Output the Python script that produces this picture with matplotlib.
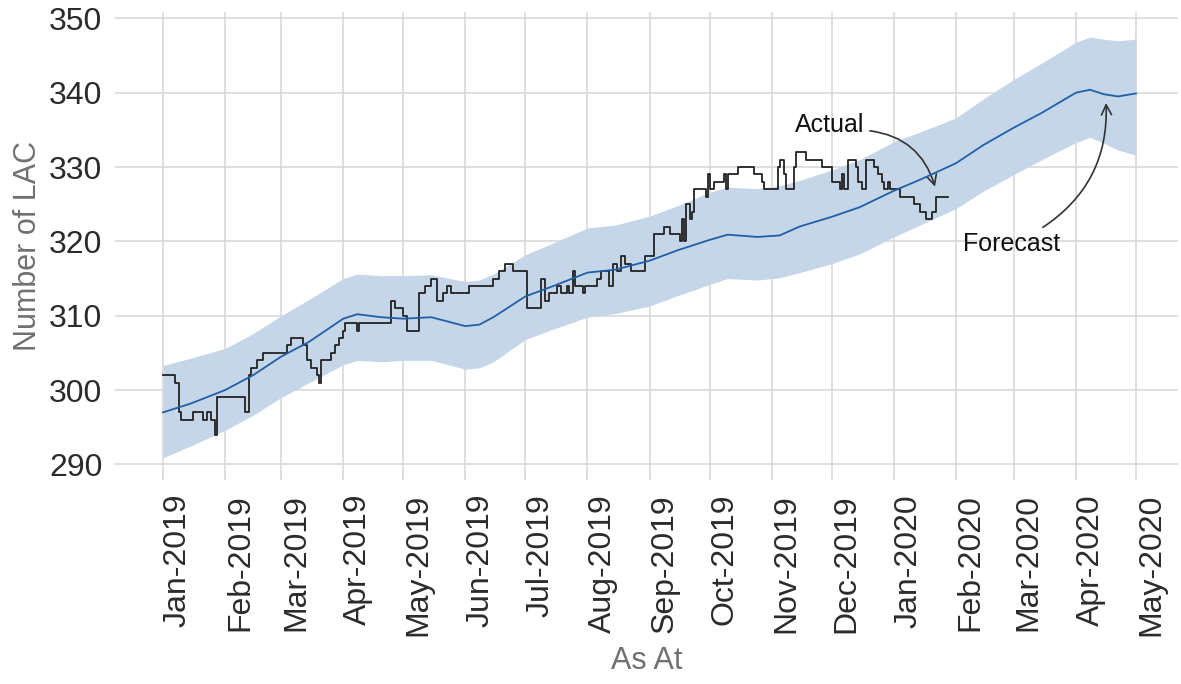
import matplotlib.pyplot as plt
import matplotlib.dates as mdates
import pandas as pd

# Forecast of LAC count with its prediction band
fc_dates = ['2019-01-01', '2019-01-15', '2019-02-01', '2019-02-15', '2019-03-01', '2019-03-15',
            '2019-04-01', '2019-04-08', '2019-04-20', '2019-05-01', '2019-05-15', '2019-06-01',
            '2019-06-08', '2019-06-15', '2019-07-01', '2019-07-15', '2019-08-01', '2019-08-15',
            '2019-09-01', '2019-09-15', '2019-10-01', '2019-10-10', '2019-10-25', '2019-11-05',
            '2019-11-15', '2019-12-01', '2019-12-15', '2020-01-01', '2020-01-15', '2020-02-01',
            '2020-02-15', '2020-03-01', '2020-03-15', '2020-04-01', '2020-04-08', '2020-04-15',
            '2020-04-22', '2020-05-01']
fc_mean = [297.0, 298.2, 300.0, 302.0, 304.5, 306.5,
           309.6, 310.2, 309.8, 309.6, 309.8, 308.6,
           308.8, 309.8, 312.6, 314.0, 315.8, 316.2,
           317.4, 318.8, 320.2, 320.9, 320.6, 320.8,
           322.0, 323.3, 324.6, 326.8, 328.4, 330.5,
           333.0, 335.3, 337.3, 340.0, 340.4, 339.8,
           339.5, 339.9]
fc_upper = [303.3, 304.3, 305.6, 307.6, 310.0, 312.2,
            315.0, 315.6, 315.4, 315.4, 315.5, 314.6,
            314.8, 315.6, 318.2, 319.8, 321.8, 322.2,
            323.4, 324.8, 326.6, 327.3, 327.1, 327.5,
            328.2, 329.6, 331.0, 333.4, 334.8, 336.6,
            339.2, 341.8, 344.0, 346.8, 347.5, 347.2,
            347.0, 347.2]
fc_lower = [290.9, 292.5, 294.6, 296.6, 299.0, 301.0,
            303.4, 304.0, 303.8, 304.0, 304.0, 302.8,
            303.0, 303.8, 306.8, 308.2, 309.8, 310.3,
            311.3, 312.7, 314.2, 315.0, 314.8, 315.1,
            315.8, 317.0, 318.3, 320.6, 322.3, 324.4,
            326.8, 329.0, 331.0, 333.3, 334.0, 333.2,
            332.3, 331.6]

# Actual counts: date of each change and the new value
act_dates = ['2019-01-01', '2019-01-07', '2019-01-09', '2019-01-10', '2019-01-16', '2019-01-21',
             '2019-01-23', '2019-01-25', '2019-01-27', '2019-01-28', '2019-02-11', '2019-02-13',
             '2019-02-14', '2019-02-17', '2019-02-20', '2019-03-04', '2019-03-06', '2019-03-12',
             '2019-03-14', '2019-03-16', '2019-03-19', '2019-03-20', '2019-03-21', '2019-03-26',
             '2019-03-28', '2019-03-30', '2019-04-01', '2019-04-02', '2019-04-08', '2019-04-09',
             '2019-04-25', '2019-04-27', '2019-05-01', '2019-05-03', '2019-05-09', '2019-05-12',
             '2019-05-15', '2019-05-18', '2019-05-21', '2019-05-23', '2019-05-25', '2019-06-03',
             '2019-06-15', '2019-06-18', '2019-06-21', '2019-06-25', '2019-07-02', '2019-07-09',
             '2019-07-11', '2019-07-13', '2019-07-17', '2019-07-19', '2019-07-22', '2019-07-23',
             '2019-07-25', '2019-07-26', '2019-07-30', '2019-07-31', '2019-08-06', '2019-08-08',
             '2019-08-12', '2019-08-14', '2019-08-16', '2019-08-18', '2019-08-20', '2019-08-23',
             '2019-08-30', '2019-09-03', '2019-09-08', '2019-09-11', '2019-09-16', '2019-09-17',
             '2019-09-18', '2019-09-19', '2019-09-21', '2019-09-22', '2019-09-23', '2019-09-29',
             '2019-09-30', '2019-10-01', '2019-10-03', '2019-10-08', '2019-10-09', '2019-10-10',
             '2019-10-15', '2019-10-23', '2019-10-27', '2019-10-28', '2019-11-04', '2019-11-05',
             '2019-11-07', '2019-11-08', '2019-11-12', '2019-11-13', '2019-11-18', '2019-11-26',
             '2019-12-01', '2019-12-05', '2019-12-06', '2019-12-07', '2019-12-09', '2019-12-13',
             '2019-12-14', '2019-12-16', '2019-12-18', '2019-12-22', '2019-12-24', '2019-12-26',
             '2019-12-27', '2019-12-29', '2019-12-30', '2020-01-04', '2020-01-11', '2020-01-14',
             '2020-01-17', '2020-01-20', '2020-01-22', '2020-01-28']
act_vals = [302, 301, 297, 296, 297, 296,
            297, 296, 294, 299, 297, 302,
            303, 304, 305, 306, 307, 306,
            304, 303, 302, 301, 304, 305,
            306, 307, 308, 309, 308, 309,
            312, 311, 310, 308, 313, 314,
            315, 312, 313, 314, 313, 314,
            315, 316, 317, 316, 311, 315,
            312, 313, 314, 313, 314, 313,
            316, 314, 313, 314, 315, 316,
            314, 317, 316, 318, 317, 316,
            318, 321, 322, 321, 320, 323,
            320, 325, 323, 324, 327, 326,
            329, 327, 328, 329, 327, 329,
            330, 329, 328, 327, 330, 331,
            329, 327, 330, 332, 331, 330,
            328, 327, 329, 327, 331, 330,
            328, 327, 331, 330, 329, 328,
            327, 328, 327, 326, 325, 324,
            323, 324, 326, 326]

y_ticks = [290, 300, 310, 320, 330, 340, 350]

fc_x = pd.to_datetime(fc_dates)
act_x = pd.to_datetime(act_dates)

plt.rcParams['font.family'] = ['Liberation Sans', 'DejaVu Sans']

fig = plt.figure(figsize=(11.81, 6.84), dpi=100)
ax = fig.add_axes([115 / 1181, 1 - 480 / 684, 1063 / 1181, 468.3 / 684])

ax.fill_between(fc_x, fc_lower, fc_upper, color='#c5d6e8', lw=0, zorder=2)
ax.plot(act_x, act_vals, drawstyle='steps-post', color='#222222', lw=1.3, zorder=3)
ax.plot(fc_x, fc_mean, color='#1f5fa8', lw=1.3, zorder=4)

ax.set_xlim(pd.Timestamp('2018-12-08'), pd.Timestamp('2020-05-22'))
ax.set_ylim(287.9, 350.9)
ax.set_yticks(y_ticks)
ax.xaxis.set_major_locator(mdates.MonthLocator())
ax.xaxis.set_major_formatter(mdates.DateFormatter('%b-%Y'))

for s in ax.spines.values():
    s.set_visible(False)
ax.grid(True, color='#d6d6d6', lw=1.1, zorder=0)
ax.set_axisbelow(True)
ax.tick_params(length=0, labelsize=23, labelcolor='#2b2b2b')
ax.tick_params(axis='y', pad=9)
ax.tick_params(axis='x', pad=10, labelrotation=90)
plt.setp(ax.get_xticklabels(), ha='left')

ax.set_ylabel('Number of LAC', fontsize=22, color='#707070')
ax.yaxis.set_label_coords(-0.068, 0.5)
ax.set_xlabel('As At', fontsize=22, color='#707070')
ax.xaxis.set_label_coords(0.5, -0.355)

arrow_kw = dict(arrowstyle='->', color='#333333', lw=1.2, mutation_scale=18)
ax.annotate('Actual', xy=(pd.Timestamp('2020-01-22'), 327.0),
            xytext=(pd.Timestamp('2019-11-30'), 335.6),
            fontsize=18, ha='center', va='center', color='#111111',
            arrowprops=dict(connectionstyle='arc3,rad=-0.35', relpos=(1.0, 0.3), **arrow_kw))
ax.annotate('Forecast', xy=(pd.Timestamp('2020-04-16'), 339.0),
            xytext=(pd.Timestamp('2020-02-29'), 319.7),
            fontsize=18, ha='center', va='center', color='#111111',
            arrowprops=dict(connectionstyle='arc3,rad=0.3', relpos=(0.75, 1.0), **arrow_kw))

fig.savefig('out.png', dpi=100)
